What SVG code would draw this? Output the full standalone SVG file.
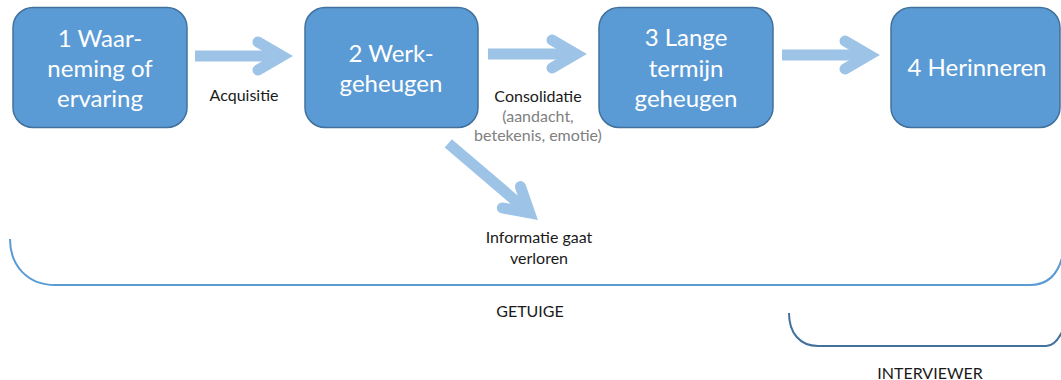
<svg xmlns="http://www.w3.org/2000/svg" width="1061" height="380" viewBox="0 0 1061 380">
<style>
.box{fill:#5B9BD5;stroke:#41719C;stroke-width:1.5}
.bt{font-family:Lato,"Liberation Sans",sans-serif;font-size:24px;fill:#ffffff;text-anchor:middle}
.lb{font-family:Lato,"Liberation Sans",sans-serif;font-size:16px;fill:#1a1a1a;text-anchor:middle}
.gr{fill:#808080}
.shaft{stroke:#9DC3E6;stroke-width:11;fill:none}
.head{stroke:#9DC3E6;stroke-width:11;fill:none;stroke-linecap:round;stroke-linejoin:miter;stroke-miterlimit:6}
</style>
<defs>
<g id="arrowhead"><polyline class="head" points="-35,-14 -11,0 -35,14"/></g>
</defs>
<rect width="1061" height="380" fill="#ffffff"/>
<g id="node1">
<rect class="box" x="13" y="7.5" width="174" height="120" rx="20"/>
<text class="bt"><tspan x="100" y="47">1 Waar-</tspan><tspan x="100" y="77">neming of</tspan><tspan x="100" y="107">ervaring</tspan></text>
</g>
<g id="node2">
<rect class="box" x="305" y="7.5" width="173" height="120" rx="20"/>
<text class="bt"><tspan x="391" y="62">2 Werk-</tspan><tspan x="391" y="92">geheugen</tspan></text>
</g>
<g id="node3">
<rect class="box" x="599" y="7.5" width="174" height="120" rx="20"/>
<text class="bt"><tspan x="686" y="46">3 Lange</tspan><tspan x="686" y="77">termijn</tspan><tspan x="686" y="107">geheugen</tspan></text>
</g>
<g id="node4">
<rect class="box" x="891" y="7.5" width="169" height="120" rx="20"/>
<text class="bt" x="977" y="76">4 Herinneren</text>
</g>
<g id="connectors">
<g transform="translate(293,56)"><line class="shaft" x1="-98" y1="0" x2="-11" y2="0"/><use href="#arrowhead"/></g>
<g transform="translate(587,54)"><line class="shaft" x1="-99" y1="0" x2="-11" y2="0"/><use href="#arrowhead"/></g>
<g transform="translate(880,55)"><line class="shaft" x1="-98" y1="0" x2="-11" y2="0"/><use href="#arrowhead"/></g>
<g transform="translate(538,220) rotate(40.5)"><line class="shaft" x1="-118" y1="0" x2="-11" y2="0"/><use href="#arrowhead"/></g>
</g>
<g id="labels">
<text class="lb" x="244" y="101">Acquisitie</text>
<text class="lb"><tspan x="538" y="102">Consolidatie</tspan><tspan class="gr" x="538" y="122">(aandacht,</tspan><tspan class="gr" x="538" y="141">betekenis, emotie)</tspan></text>
<text class="lb"><tspan x="539" y="243">Informatie gaat</tspan><tspan x="539" y="264">verloren</tspan></text>
<text class="lb" x="530" y="317">GETUIGE</text>
<text class="lb" x="930" y="379">INTERVIEWER</text>
</g>
<g id="brackets">
<path d="M10,239 C10,266 28,285 55,285 L1030,285 C1046,285 1057,276 1062,258" fill="none" stroke="#5B9BD5" stroke-width="2"/>
<path d="M789,313 C789,333 800,346 818,346 L1046,346 C1053,346 1058,340 1062,332" fill="none" stroke="#41719C" stroke-width="2"/>
</g>
</svg>
